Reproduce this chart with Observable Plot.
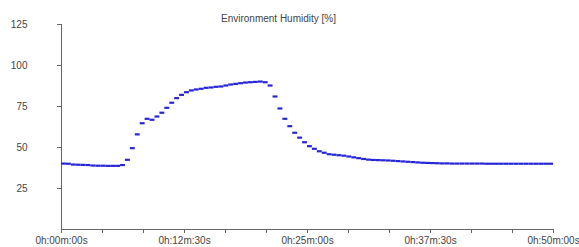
<!DOCTYPE html>
<html>
<head>
<meta charset="utf-8">
<script src="https://cdn.jsdelivr.net/npm/d3@7"></script>
<script src="https://cdn.jsdelivr.net/npm/@observablehq/plot@0.6"></script>
<style>
  html, body { margin: 0; padding: 0; background: #fff; }
  #chart svg { display: block; }
</style>
</head>
<body>
<div id="chart"></div>
<script>
// ---- data ----
const chartTitle = "Environment Humidity [%]";
const sampleStepMinutes = 0.5; // one reading every 30 s
const humidity = [
  40.2, 40.1, 39.6, 39.5, 39.4, 39.3, 39.0, 38.9, 38.9, 38.8,
  38.8, 38.8, 39.3, 42.5, 49.6, 58.0, 64.8, 67.5, 66.9, 68.9,
  71.2, 74.2, 77.3, 80.1, 82.1, 83.7, 84.8, 85.4, 85.8, 86.4,
  86.6, 87.0, 87.2, 87.8, 88.4, 88.8, 89.2, 89.6, 89.8, 90.0,
  90.2, 89.8, 87.8, 81.1, 73.8, 67.5, 63.0, 59.0, 56.0, 53.2,
  50.8, 49.2, 47.7, 46.8, 45.9, 45.6, 45.3, 45.0, 44.5, 44.0,
  43.5, 43.0, 42.6, 42.4, 42.3, 42.2, 42.1, 41.9, 41.7, 41.5,
  41.3, 41.1, 40.9, 40.7, 40.6, 40.5, 40.4, 40.3, 40.3, 40.2,
  40.2, 40.2, 40.2, 40.2, 40.2, 40.2, 40.1, 40.1, 40.1, 40.1,
  40.1, 40.1, 40.1, 40.1, 40.1, 40.1, 40.1, 40.1, 40.1, 40.1
];
const yTicks = [25, 50, 75, 100, 125];
const xMajorTicks = [0, 12.5, 25, 37.5, 50];               // minutes
const xMinorTicks = [0, 4.1667, 8.3333, 12.5, 16.6667, 20.8333, 25,
                     29.1667, 33.3333, 37.5, 41.6667, 45.8333, 50];

// ---- build table ----
const rows = humidity.map((h, i) => ({
  t: i * sampleStepMinutes,
  t2: (i + 1) * sampleStepMinutes,
  h
}));

const fmtTime = m => {
  const totalSec = Math.round(m * 60);
  const hh = Math.floor(totalSec / 3600);
  const mm = Math.floor((totalSec % 3600) / 60);
  const ss = totalSec % 60;
  return `${hh}h:${String(mm).padStart(2, "0")}m:${String(ss).padStart(2, "0")}s`;
};

const axisColor = "#666";
const textColor = "#444";

const chart = Plot.plot({
  width: 579,
  height: 247,
  marginLeft: 61,
  marginRight: 26,
  marginTop: 24,
  marginBottom: 18,
  style: { fontFamily: "'Liberation Sans', Arial, sans-serif", fontSize: "10px", color: textColor, background: "#fff" },
  x: { domain: [0, 50] },
  y: { domain: [0, 125] },
  marks: [
    // axis lines
    Plot.ruleX([0], { stroke: axisColor, strokeWidth: 1 }),
    Plot.ruleY([0], { stroke: axisColor, strokeWidth: 1 }),
    // y axis
    Plot.axisY({
      ticks: yTicks, tickSize: 4, tickPadding: 30, textAnchor: "end",
      stroke: axisColor, fill: textColor, label: null, fontSize: 10
    }),
    // x axis minor ticks
    Plot.axisX({
      ticks: xMinorTicks, tickSize: 4, text: null, stroke: axisColor, label: null
    }),
    // x axis labels
    Plot.axisX({
      ticks: xMajorTicks, tickSize: 4, tickPadding: 3, tickFormat: fmtTime,
      stroke: axisColor, fill: textColor, label: null, fontSize: 10
    }),
    // data: one short horizontal segment per reading
    Plot.ruleY(rows, { y: "h", x1: "t", x2: "t2", stroke: "#2626d6", strokeWidth: 2.2 }),
    // title
    Plot.text([chartTitle], {
      frameAnchor: "top", dx: -29, dy: -6, lineAnchor: "middle",
      fill: textColor, fontSize: 10
    })
  ]
});

document.getElementById("chart").appendChild(chart);
</script>
</body>
</html>
